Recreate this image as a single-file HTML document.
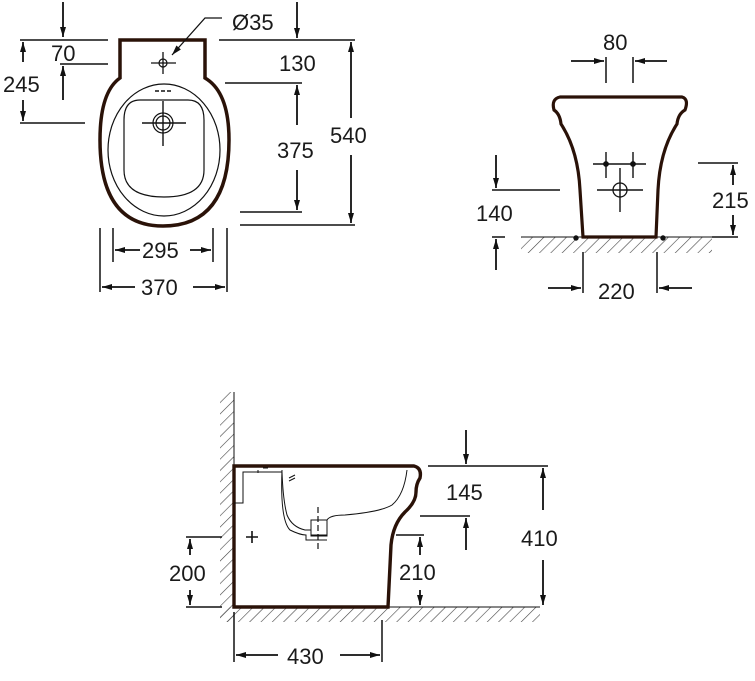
<!DOCTYPE html>
<html><head><meta charset="utf-8"><style>
html,body{margin:0;padding:0;background:#fff}
svg{display:block}
text{font-family:"Liberation Sans",sans-serif;font-size:22px;fill:#1a1a1a}
</style></head><body>
<svg width="755" height="681" viewBox="0 0 755 681" xmlns="http://www.w3.org/2000/svg">
<defs>
<marker id="a" viewBox="0 0 10 6" refX="10" refY="3" markerWidth="11" markerHeight="6" orient="auto" markerUnits="userSpaceOnUse"><path d="M0,0 L10,3 L0,6 Z" fill="#111"/></marker>
<pattern id="h" width="8" height="8" patternUnits="userSpaceOnUse" patternTransform="rotate(45)"><line x1="0" y1="0" x2="0" y2="8" stroke="#444" stroke-width="1.2"/></pattern>
</defs>
<g stroke="#111" stroke-width="1.8" fill="none">
<!-- TOP LEFT PLAN -->
<path d="M120,40 H205 V78 Q229,92 229,140 Q229,226 163,226 Q100,226 100,140 Q100,92 120,78 Z" stroke="#2a1208" stroke-width="3.5"/>
<ellipse cx="164" cy="150" rx="56" ry="66" stroke-width="1.2"/>
<path d="M140,100 H188 Q204,100 204,120 V170 Q204,197 164,197 Q124,197 124,170 V120 Q124,100 140,100 Z" stroke-width="1.2"/>
<path d="M155,91 h4 M161,91 h4 M167,91 h4" stroke-width="1.5"/>
<circle cx="163" cy="63" r="4" stroke-width="1.2"/>
<path d="M151,63 H176 M163,52 V74" stroke-width="1.3"/>
<circle cx="163" cy="123" r="10" stroke-width="1.2"/><circle cx="163" cy="123" r="7" stroke-width="1.2"/>
<path d="M142,123 H186 M163,101 V146" stroke-width="1.4"/>
<path d="M222,18 H205 L172,55" stroke-width="1.3" marker-end="url(#a)"/>
<path d="M20,40 H108 M60,64 H108 M20,123 H85" stroke-width="1.5"/>
<path d="M63,2 V37" marker-end="url(#a)"/><path d="M63,100 V66" marker-end="url(#a)"/>
<path d="M23,62 V42" marker-end="url(#a)"/><path d="M23,100 V121" marker-end="url(#a)"/>
<path d="M219,40 H355 M225,83 H302 M240,212 H302 M240,225 H355" stroke-width="1.5"/>
<path d="M297,2 V38" marker-end="url(#a)"/>
<path d="M297,125 V85" marker-end="url(#a)"/><path d="M297,170 V210" marker-end="url(#a)"/>
<path d="M351,118 V42" marker-end="url(#a)"/><path d="M351,155 V223" marker-end="url(#a)"/>
<path d="M100,228 V292 M113,228 V262 M213,228 V262 M227,228 V292" stroke-width="1.5"/>
<path d="M140,250 H115" marker-end="url(#a)"/><path d="M190,250 H211" marker-end="url(#a)"/>
<path d="M135,287 H102" marker-end="url(#a)"/><path d="M193,287 H225" marker-end="url(#a)"/>

<!-- TOP RIGHT FRONT -->
<rect x="521" y="237" width="191" height="16" fill="url(#h)" stroke="none"/>
<path d="M521,237 H712" stroke-width="1"/>
<path d="M560,97 H682 Q689,99 685,110 Q678,114 677,124 Q660,150 658,190 L656,237 H583 L580,190 Q578,150 561,124 Q560,114 554,110 Q551,99 560,97 Z" stroke="#2a1208" stroke-width="3.2"/>
<circle cx="576" cy="238" r="1.8" fill="#111"/><circle cx="663" cy="238" r="1.8" fill="#111"/>
<path d="M593,164 H646 M606,152 V178 M633,152 V178" stroke-width="1.4"/>
<circle cx="606" cy="164" r="2" fill="#111"/><circle cx="633" cy="164" r="2" fill="#111"/>
<circle cx="620" cy="190" r="7" stroke-width="1.3"/>
<path d="M597,190 H643 M620,168 V212" stroke-width="1.4"/>
<path d="M606,57 V83 M633,57 V83" stroke-width="1.5"/>
<path d="M571,61 H604" marker-end="url(#a)"/><path d="M667,61 H635" marker-end="url(#a)"/>
<path d="M492,190 H560 M492,237 H505 M698,163 H738 M712,237 H738" stroke-width="1.5"/>
<path d="M496,155 V188" marker-end="url(#a)"/><path d="M496,270 V239" marker-end="url(#a)"/>
<path d="M733,185 V165" marker-end="url(#a)"/><path d="M733,215 V235" marker-end="url(#a)"/>
<path d="M583,252 V293 M657,252 V293" stroke-width="1.5"/>
<path d="M548,288 H581" marker-end="url(#a)"/><path d="M692,288 H659" marker-end="url(#a)"/>

<!-- BOTTOM SIDE -->
<rect x="220" y="392" width="14" height="230" fill="url(#h)" stroke="none"/>
<rect x="220" y="607" width="320" height="15" fill="url(#h)" stroke="none"/>
<path d="M234,392 V607 H540" stroke-width="1"/>
<path d="M234,466 H414 Q422,468 420,478 Q416,484 416,492 Q416,502 405,512 Q393,524 391,545 L388,607 H234 Z" stroke="#2a1208" stroke-width="3.4"/>
<path d="M234,503 H243 V472 H282 Q283,500 287,515 Q292,527 305,530 H311 V535 H327 V520 Q330,515 345,515 Q380,512 392,505 Q404,495 407,470" stroke-width="1"/>
<path d="M282,470 Q280,520 290,530 Q300,535 306,535 V540 H327" stroke-width="1"/>
<path d="M258,470 V473 M263,468 H268 M289,478 l6,-3 M289,481 l6,-3" stroke-width="1"/>
<rect x="311" y="520" width="16" height="16" stroke-width="1"/>
<path d="M318,507 V550" stroke-width="1.2" stroke-dasharray="6,3"/>
<path d="M246,537 H258 M252,531 V543" stroke-width="1.6"/>
<path d="M428,466 H548 M420,516 H470 M396,535 H424 M186,537 H222 M186,607 H222" stroke-width="1.5"/>
<path d="M466,430 V464" marker-end="url(#a)"/><path d="M466,550 V518" marker-end="url(#a)"/>
<path d="M543,510 V468" marker-end="url(#a)"/><path d="M543,560 V605" marker-end="url(#a)"/>
<path d="M420,555 V537" marker-end="url(#a)"/><path d="M420,590 V605" marker-end="url(#a)"/>
<path d="M190,555 V539" marker-end="url(#a)"/><path d="M190,590 V605" marker-end="url(#a)"/>
<path d="M234,612 V662 M382,620 V662" stroke-width="1.5"/>
<path d="M278,655 H236" marker-end="url(#a)"/><path d="M340,655 H380" marker-end="url(#a)"/>
</g>
<text x="51" y="61">70</text>
<text x="3" y="92">245</text>
<text x="232" y="30">Ø35</text>
<text x="279" y="71">130</text>
<text x="277" y="158">375</text>
<text x="330" y="143">540</text>
<text x="142" y="258">295</text>
<text x="141" y="295">370</text>
<text x="603" y="50">80</text>
<text x="476" y="221">140</text>
<text x="712" y="208">215</text>
<text x="598" y="299">220</text>
<text x="446" y="500">145</text>
<text x="521" y="546">410</text>
<text x="399" y="580">210</text>
<text x="169" y="581">200</text>
<text x="287" y="664">430</text>
</svg>
</body></html>
